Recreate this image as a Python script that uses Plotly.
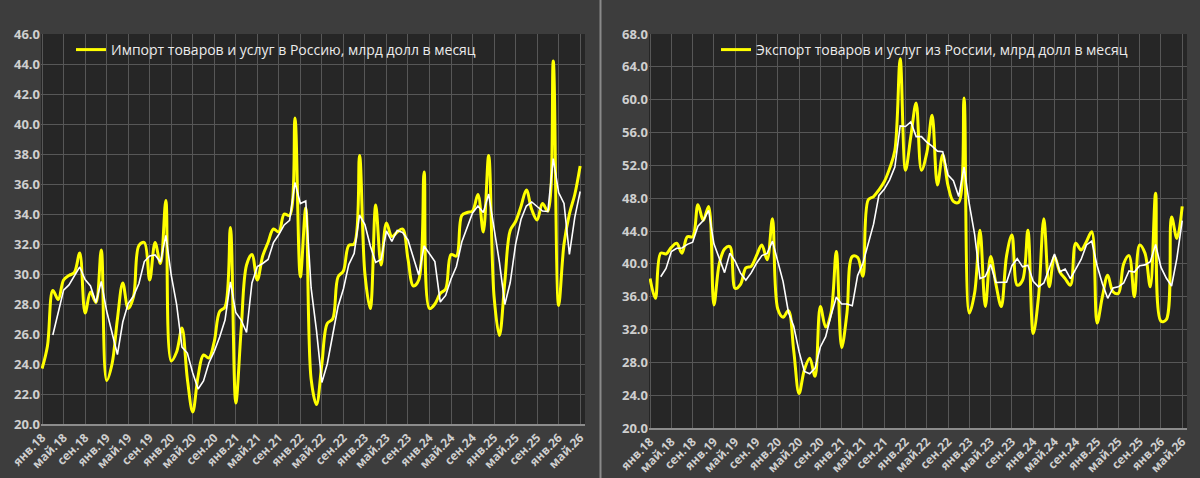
import plotly.graph_objects as go
import pandas as pd

# ---- categories (monthly, Jan 2018 .. May 2026) ----
month_names = ["янв", "фев", "мар", "апр", "май", "июн", "июл", "авг", "сен", "окт", "ноя", "дек"]
years = ["18", "19", "20", "21", "22", "23", "24", "25", "26"]
months = [f"{m}.{y}" for y in years for m in month_names][:101]

tick_labels = ["янв.18", "май.18", "сен.18", "янв.19", "май.19", "сен.19", "янв.20", "май.20", "сен.20",
               "янв.21", "май.21", "сен.21", "янв.22", "май.22", "сен.22", "янв.23", "май.23", "сен.23",
               "янв.24", "май.24", "сен.24", "янв.25", "май.25", "сен.25", "янв.26", "май.26"]

# ---- series: import of goods & services, bn USD per month ----
import_values = [
    23.7, 25.2, 28.9, 28.3, 29.6, 29.9, 30.1, 31.4, 27.4, 28.8, 28.1, 31.6,
    22.9, 24.0, 27.0, 29.4, 27.7, 28.5, 31.9, 32.1, 29.6, 32.1, 30.7, 34.9,
    24.2, 24.8, 26.4, 23.0, 20.8, 23.2, 24.6, 24.4, 25.5, 27.5, 27.8, 33.1,
    21.4, 26.3, 30.6, 31.3, 29.6, 31.2, 32.1, 33.0, 32.8, 34.0, 33.9, 40.4,
    29.8, 34.4, 23.0, 21.3, 24.0, 26.7, 27.0, 29.8, 30.2, 31.9, 32.0, 37.9,
    30.0, 27.7, 34.6, 30.6, 33.4, 32.5, 32.8, 33.0, 31.0, 29.2, 29.6, 36.8,
    27.7, 28.0, 28.7, 29.0, 31.3, 31.2, 33.9, 34.1, 34.2, 35.3, 32.8, 37.9,
    28.5, 25.9, 29.5, 32.9, 33.5, 34.5, 35.6, 34.3, 33.6, 34.7, 34.2, 44.2,
    27.9, 32.0, 34.0, 35.3, 37.2,
]

# ---- series: export of goods & services, bn USD per month ----
export_values = [
    38.2, 35.8, 41.3, 41.2, 42.0, 42.5, 41.3, 43.3, 43.3, 47.2, 45.3, 47.0,
    35.0, 40.0, 41.8, 42.1, 37.0, 37.5, 39.5, 39.7, 41.0, 42.3, 40.5, 45.5,
    34.5, 33.5, 34.3, 29.4, 24.2, 27.1, 28.5, 26.3, 34.8, 32.3, 34.0, 41.5,
    29.8, 34.0, 40.9, 40.8, 38.5, 47.8, 48.2, 49.0, 50.0, 51.6, 53.8, 65.0,
    51.4, 55.5, 59.6, 51.4, 53.5, 58.1, 49.6, 53.3, 49.5, 47.6, 47.5, 60.2,
    34.0, 36.5, 44.1, 34.8, 40.9, 37.5, 34.8, 41.0, 43.5, 37.4, 38.0, 44.1,
    31.5, 36.0, 45.5, 37.2, 40.9, 39.0, 38.2, 37.4, 42.5, 41.7, 42.7, 43.9,
    32.8, 36.0, 38.6, 36.6, 36.4, 40.0, 41.0, 36.0, 42.3, 41.3, 37.2, 48.6,
    33.0, 33.2, 45.7, 43.1, 47.0,
]

import_name = "Импорт товаров и услуг в Россию, млрд долл в месяц"
export_name = "Экспорт товаров и услуг из России, млрд долл в месяц"

# 3-period moving-average trendline (as the white line in the original chart)
import_trend = pd.Series(import_values).rolling(3).mean().round(2).tolist()
export_trend = pd.Series(export_values).rolling(3).mean().round(2).tolist()

YELLOW = "#FFFF00"
PAPER = "#3d3d3d"
PLOT = "#262626"
GRID = "#575757"
AXIS = "#8c8c8c"
YTICKFONT = dict(family="Open Sans", size=13, color="#cfcfcf", weight="bold")
XTICKFONT = dict(family="Open Sans", size=12, color="#cfcfcf", weight="bold")
LEGFONT = dict(family="Open Sans", size=14, color="#ececec")

W, H = 1200, 478

fig = go.Figure()

fig.add_trace(go.Scatter(x=months, y=import_values, mode="lines", name=import_name,
                         line=dict(color=YELLOW, width=3, shape="spline", smoothing=1.0),
                         xaxis="x", yaxis="y", legend="legend"))
fig.add_trace(go.Scatter(x=months, y=import_trend, mode="lines", showlegend=False,
                         line=dict(color="#ffffff", width=1.6),
                         xaxis="x", yaxis="y"))
fig.add_trace(go.Scatter(x=months, y=export_values, mode="lines", name=export_name,
                         line=dict(color=YELLOW, width=3, shape="spline", smoothing=1.0),
                         xaxis="x2", yaxis="y2", legend="legend2"))
fig.add_trace(go.Scatter(x=months, y=export_trend, mode="lines", showlegend=False,
                         line=dict(color="#ffffff", width=1.6),
                         xaxis="x2", yaxis="y2"))

xcommon = dict(type="category", range=[-0.2, 100.9], tickmode="array", tickvals=tick_labels,
               ticktext=tick_labels, tickangle=-45, showgrid=True, gridcolor=GRID, gridwidth=1,
               showline=True, linecolor=AXIS, linewidth=2, ticks="", tickfont=XTICKFONT,
               zeroline=False, fixedrange=True, automargin=False)
ycommon = dict(showgrid=True, gridcolor=GRID, gridwidth=1, tickformat=".1f", showline=False,
               zeroline=False, ticks="", tickfont=YTICKFONT, fixedrange=True, automargin=False)

fig.update_layout(
    width=W, height=H,
    margin=dict(l=0, r=0, t=0, b=0, autoexpand=False),
    paper_bgcolor=PAPER, plot_bgcolor=PLOT,
    xaxis=dict(domain=[41 / W, 585 / W], anchor="y", **xcommon),
    yaxis=dict(domain=[1 - 424 / H, 1 - 34 / H], anchor="x", range=[20, 46], dtick=2, **ycommon),
    xaxis2=dict(domain=[649 / W, 1187 / W], anchor="y2", **xcommon),
    yaxis2=dict(domain=[1 - 428 / H, 1 - 34 / H], anchor="x2", range=[20, 68], dtick=4, **ycommon),
    legend=dict(x=71 / W, y=1 - 34 / H, xanchor="left", yanchor="top", bgcolor="rgba(0,0,0,0)",
                font=LEGFONT, itemwidth=30),
    legend2=dict(x=716 / W, y=1 - 34 / H, xanchor="left", yanchor="top", bgcolor="rgba(0,0,0,0)",
                 font=LEGFONT, itemwidth=30),
    shapes=[dict(type="line", xref="paper", yref="paper", x0=600.5 / W, x1=600.5 / W, y0=0, y1=1,
                 line=dict(color="#8a8a8a", width=2))],
    showlegend=True,
)

fig.write_html("out.html")
